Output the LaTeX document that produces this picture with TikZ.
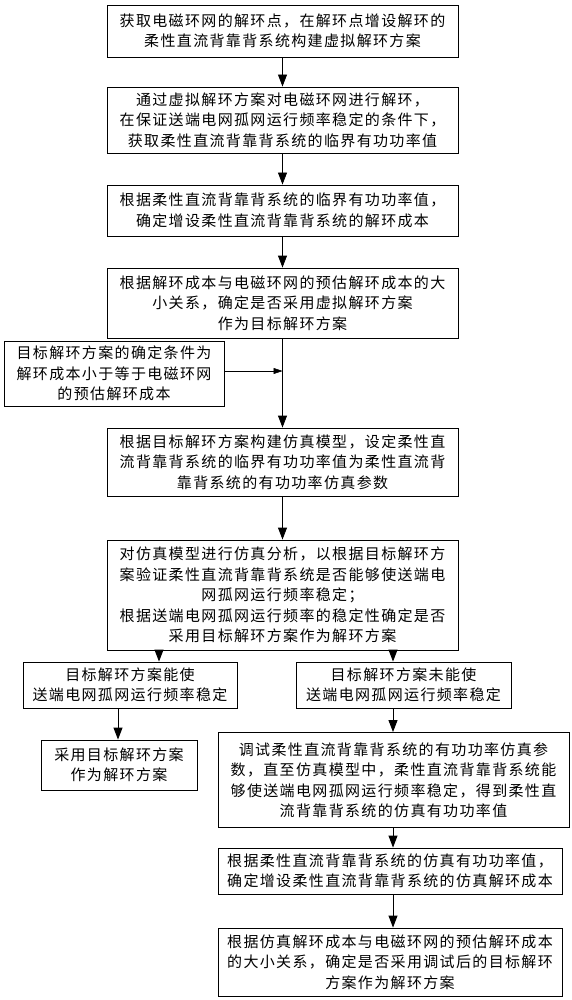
\documentclass[tikz,border=0pt]{standalone}
\usepackage{fontspec}
\newfontfamily\cjk[LetterSpace=9]{Noto Sans CJK SC}
\usetikzlibrary{arrows.meta, calc, positioning}

\begin{document}
\begin{tikzpicture}[
    x=1pt, y=-1pt,
    box/.style={draw, line width=0.9pt, align=center, inner sep=0pt,
        font=\cjk\fontsize{15}{20.5}\selectfont},
    arr/.style={-{Triangle[width=9pt, length=12pt]}, line width=0.9pt},
    thinarr/.style={-{Triangle[width=6pt, length=9pt]}, line width=0.5pt}
]

    % 1. Margens da figura
    \useasboundingbox (0,0) rectangle (572,1000);

    % 2. Coluna principal
    \node[box, minimum width=351pt, minimum height=52pt] (b1) at (282.5,31)
        {获取电磁环网的解环点，在解环点增设解环的\\柔性直流背靠背系统构建虚拟解环方案};
    \node[box, minimum width=351pt, minimum height=66pt] (b2) at (282.5,120)
        {通过虚拟解环方案对电磁环网进行解环，\\在保证送端电网孤网运行频率稳定的条件下，\\获取柔性直流背靠背系统的临界有功功率值};
    \node[box, minimum width=351pt, minimum height=51pt] (b3) at (282.5,210.5)
        {根据柔性直流背靠背系统的临界有功功率值，\\确定增设柔性直流背靠背系统的解环成本};
    \node[box, minimum width=351pt, minimum height=70pt] (b4) at (282.5,303)
        {根据解环成本与电磁环网的预估解环成本的大\\小关系，确定是否采用虚拟解环方案\\作为目标解环方案};
    \node[box, minimum width=220pt, minimum height=65pt] (cond) at (114,373.5)
        {目标解环方案的确定条件为\\解环成本小于等于电磁环网\\的预估解环成本};
    \node[box, minimum width=351pt, minimum height=68pt] (b5) at (282.5,462)
        {根据目标解环方案构建仿真模型，设定柔性直\\流背靠背系统的临界有功功率值为柔性直流背\\靠背系统的有功功率仿真参数};
    \node[box, minimum width=351pt, minimum height=110pt] (b6) at (282.5,595)
        {对仿真模型进行仿真分析，以根据目标解环方\\案验证柔性直流背靠背系统是否能够使送端电\\网孤网运行频率稳定；\\根据送端电网孤网运行频率的稳定性确定是否\\采用目标解环方案作为解环方案};

    % 3. Ramo esquerdo (estável)
    \node[box, minimum width=214pt, minimum height=46pt] (okA) at (130,685)
        {目标解环方案能使\\送端电网孤网运行频率稳定};
    \node[box, minimum width=156pt, minimum height=50pt] (okB) at (119,765)
        {采用目标解环方案\\作为解环方案};

    % 4. Ramo direito (instável)
    \node[box, minimum width=215pt, minimum height=46pt] (noA) at (403.5,685)
        {目标解环方案未能使\\送端电网孤网运行频率稳定};
    \node[box, minimum width=351pt, minimum height=95pt] (noB) at (393.5,780)
        {调试柔性直流背靠背系统的有功功率仿真参\\数，直至仿真模型中，柔性直流背靠背系统能\\够使送端电网孤网运行频率稳定，得到柔性直\\流背靠背系统的仿真有功功率值};
    \node[box, minimum width=344pt, minimum height=46pt] (noC) at (390,871)
        {根据柔性直流背靠背系统的仿真有功功率值，\\确定增设柔性直流背靠背系统的仿真解环成本};
    \node[box, minimum width=344pt, minimum height=68pt] (noD) at (390,962)
        {根据仿真解环成本与电磁环网的预估解环成本\\的大小关系，确定是否采用调试后的目标解环\\方案作为解环方案};

    % 5. Abscissas auxiliares das setas
    \coordinate (xL) at (159,0);
    \coordinate (xLL) at (118,0);
    \coordinate (xR) at (393,0);

    % 6. Setas da coluna principal
    \draw[arr] (b1) -- (b2);
    \draw[arr] (b2) -- (b3);
    \draw[arr] (b3) -- (b4);
    \draw[arr] (b4) -- (b5);
    \draw[arr] (b5) -- (b6);
    \draw[thinarr] (cond.east |- 0,371) -- (b4.south |- 0,371);

    % 7. Setas dos ramos
    \draw[arr] (xL |- b6.south) -- (xL |- okA.north);
    \draw[arr] (xLL |- okA.south) -- (xLL |- okB.north);
    \draw[arr] (xR |- b6.south) -- (xR |- noA.north);
    \draw[arr] (xR |- noA.south) -- (xR |- noB.north);
    \draw[arr] (xR |- noB.south) -- (xR |- noC.north);
    \draw[arr] (xR |- noC.south) -- (xR |- noD.north);

\end{tikzpicture}
\end{document}
